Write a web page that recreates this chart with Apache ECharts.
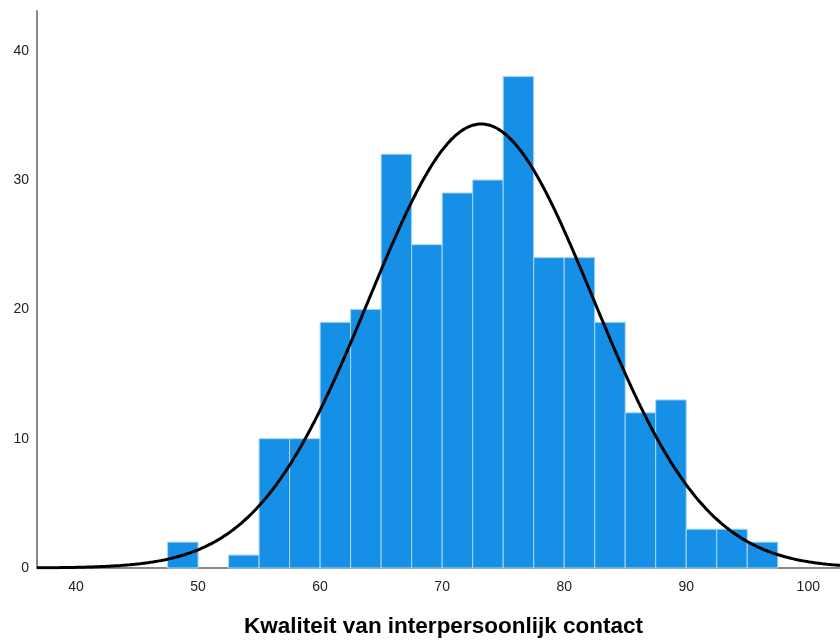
<!DOCTYPE html>
<html>
<head>
<meta charset="utf-8">
<script src="https://cdn.jsdelivr.net/npm/echarts@6/dist/echarts.min.js"></script>
<style>html,body{margin:0;padding:0;background:#fff}#c{width:840px;height:643px}</style>
</head>
<body>
<div id="c"></div>
<script>
// Histogram bins (lower edge) and frequencies
const binStarts = [47.5, 50, 52.5, 55, 57.5, 60, 62.5, 65, 67.5, 70, 72.5, 75, 77.5, 80, 82.5, 85, 87.5, 90, 92.5, 95];
const counts    = [2,    0,  1,    10, 10,   19, 20,   32, 25,   29, 30,   38, 24,   24, 19,   12, 13,   3,  3,    2];
const binWidth = 2.5;
const xTicks = [40, 50, 60, 70, 80, 90, 100];
const yTicks = [0, 10, 20, 30, 40];
// Fitted normal curve parameters
const mean = 73.2;
const sd = 9.18;
const N = 316;
const xTitle = 'Kwaliteit van interpersoonlijk contact';

const xMin = 36.8, xMax = 102.6;

const barData = binStarts.map((s, i) => [s, s + binWidth, counts[i]]);
const curve = [];
for (let x = xMin; x <= xMax + 1e-9; x += 0.2) {
  const y = N * binWidth / (sd * Math.sqrt(2 * Math.PI)) * Math.exp(-0.5 * ((x - mean) / sd) ** 2);
  curve.push([x, y]);
}

const chart = echarts.init(document.getElementById('c'), null, {renderer: 'canvas'});
chart.setOption({
  animation: false,
  grid: {left: 37, right: 0, top: 11, bottom: 73, containLabel: false},
  xAxis: {
    type: 'value', min: xMin, max: xMax,
    name: xTitle, nameLocation: 'middle', nameGap: 47,
    nameTextStyle: {fontFamily: 'Liberation Sans', fontWeight: 'bold', fontSize: 22.5, color: '#000', padding: [0, 0, 0, 10]},
    axisLine: {show: true, lineStyle: {color: '#888', width: 2}},
    axisTick: {show: false},
    splitLine: {show: false},
    axisLabel: {customValues: xTicks, fontFamily: 'Liberation Sans', fontSize: 14, color: '#222', margin: 12}
  },
  yAxis: {
    type: 'value', min: 0, max: 43.07,
    axisLine: {show: true, lineStyle: {color: '#888', width: 2}},
    axisTick: {show: false},
    splitLine: {show: false},
    axisLabel: {customValues: yTicks, fontFamily: 'Liberation Sans', fontSize: 14, color: '#222', margin: 8, padding: [8, 0, 0, 0]}
  },
  series: [
    {
      type: 'custom',
      data: barData,
      encode: {x: [0, 1], y: 2},
      renderItem: function (params, api) {
        const v = api.value(2);
        if (!v) return null;
        const p0 = api.coord([api.value(0), v]);
        const p1 = api.coord([api.value(1), 0]);
        return {
          type: 'rect',
          shape: {x: p0[0], y: p0[1], width: p1[0] - p0[0], height: p1[1] - p0[1]},
          style: {fill: '#1690e6', stroke: '#a9d6f7', lineWidth: 1}
        };
      },
      z: 2
    },
    {
      type: 'line',
      data: curve,
      showSymbol: false,
      smooth: true,
      lineStyle: {color: '#000', width: 3},
      z: 3
    }
  ]
});
</script>
</body>
</html>
